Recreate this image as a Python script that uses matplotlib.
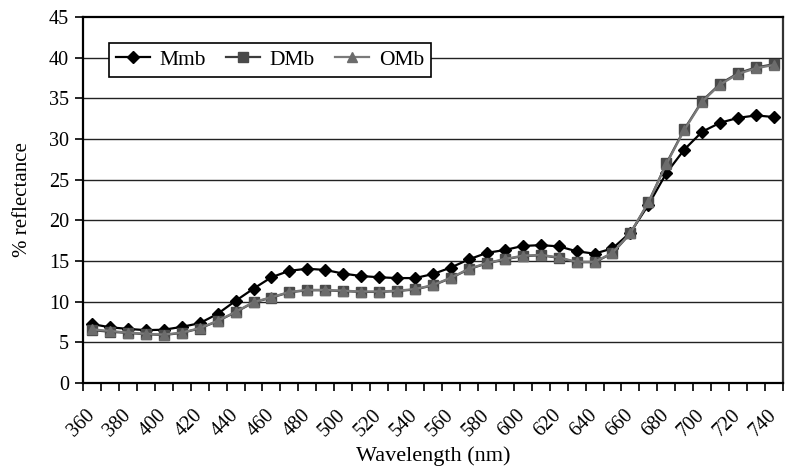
import numpy as np
import matplotlib.pyplot as plt
from matplotlib.ticker import MultipleLocator, FixedLocator

# reflectance spectra, 360-740 nm every 10 nm
wavelength = np.arange(360, 750, 10)

mmb = [7.25, 6.85, 6.65, 6.5, 6.55, 6.9, 7.35, 8.5, 10.1, 11.6,
       13.0, 13.8, 14.05, 13.9, 13.45, 13.15, 13.0, 12.9, 12.9, 13.4,
       14.2, 15.2, 16.0, 16.35, 16.85, 16.95, 16.8, 16.2, 15.9, 16.55,
       18.5, 21.9, 25.8, 28.7, 30.9, 32.0, 32.6, 32.9, 32.7]

dmb = [6.5, 6.3, 6.15, 6.0, 5.9, 6.15, 6.7, 7.6, 8.7, 9.9,
       10.5, 11.15, 11.4, 11.4, 11.3, 11.2, 11.2, 11.3, 11.5, 12.0,
       12.9, 14.0, 14.7, 15.2, 15.6, 15.7, 15.4, 14.85, 14.85, 15.95,
       18.4, 22.2, 27.0, 31.2, 34.7, 36.8, 38.1, 38.8, 39.2]

omb = [6.6, 6.4, 6.2, 6.05, 5.95, 6.2, 6.75, 7.65, 8.75, 9.95,
       10.55, 11.2, 11.45, 11.45, 11.35, 11.25, 11.25, 11.35, 11.55, 12.05,
       12.95, 14.05, 14.75, 15.25, 15.65, 15.75, 15.45, 14.9, 14.9, 16.0,
       18.45, 22.2, 26.9, 31.1, 34.6, 36.7, 38.0, 38.7, 39.1]

plt.rcParams['font.family'] = ['Liberation Serif', 'DejaVu Serif']

fig = plt.figure(figsize=(7.94, 4.70), dpi=100)
ax = fig.add_axes([83 / 794, 1 - 383 / 470, 700 / 794, 366 / 470])

ax.plot(wavelength, mmb, color='black', lw=1.6, marker='D', ms=6.5,
        mfc='black', mec='black', label='Mmb', zorder=3)
ax.plot(wavelength, dmb, color='#3c3c3c', lw=1.6, marker='s', ms=7.5,
        mfc='#4a4a4a', mec='#4a4a4a', label='DMb', zorder=4)
ax.plot(wavelength, omb, color='#7a7a7a', lw=1.6, marker='^', ms=6.5,
        mfc='#6c6c6c', mec='#6c6c6c', label='OMb', zorder=5)

ax.set_xlim(355, 745)
ax.set_ylim(0, 45)

# y axis
ax.yaxis.set_major_locator(MultipleLocator(5))
ax.tick_params(axis='y', direction='out', length=6, width=1.2,
               labelsize=14.5, pad=4)
for y in range(5, 45, 5):
    ax.axhline(y, color='#222222', lw=1.0, zorder=1)

# x axis: tick marks between categories, labels every 20 nm
ax.xaxis.set_major_locator(FixedLocator(np.arange(360, 750, 20)))
ax.xaxis.set_minor_locator(FixedLocator(np.arange(355, 755, 10)))
ax.tick_params(axis='x', which='major', length=0, labelsize=14.5, pad=21)
ax.tick_params(axis='x', which='minor', direction='out', length=6,
               width=1.2)
for lbl in ax.get_xticklabels():
    lbl.set_rotation(45)
    lbl.set_rotation_mode('anchor')
    lbl.set_ha('right')
    lbl.set_va('center')

for side in ['left', 'bottom', 'top']:
    ax.spines[side].set_linewidth(1.6)
    ax.spines[side].set_color('black')
ax.spines['right'].set_linewidth(1.6)
ax.spines['right'].set_color('#333333')

ax.set_xlabel('Wavelength (nm)', fontsize=16, labelpad=4)
ax.set_ylabel('% reflectance', fontsize=15, labelpad=12)

leg = ax.legend(loc='upper left', bbox_to_anchor=(0.037, 0.929), ncol=3,
                fontsize=15.5, frameon=True, fancybox=False, framealpha=1,
                edgecolor='black', handlelength=1.6, handletextpad=0.45,
                columnspacing=0.9, borderpad=0.32, borderaxespad=0)
leg.get_frame().set_linewidth(1.2)
leg.set_zorder(10)

fig.savefig('out.png', dpi=100)
